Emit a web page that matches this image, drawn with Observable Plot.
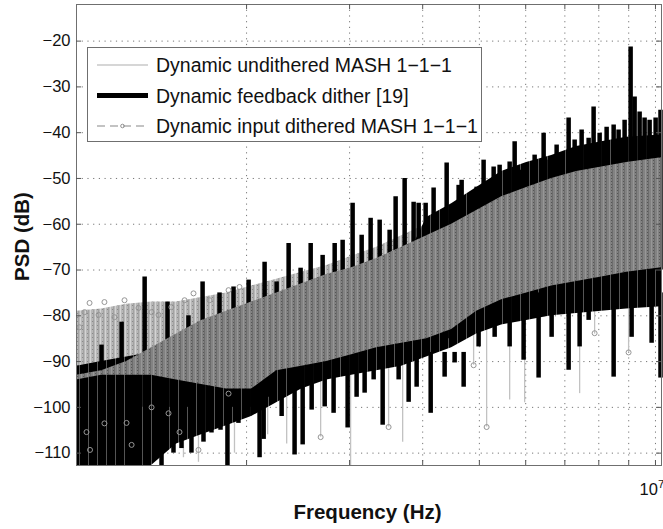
<!DOCTYPE html>
<html><head><meta charset="utf-8">
<script src="https://cdn.jsdelivr.net/npm/d3@7"></script>
<script src="https://cdn.jsdelivr.net/npm/@observablehq/plot@0.6"></script>
<style>
body{margin:0;background:#fff}
#chart{position:relative;width:663px;height:529px}
</style>
</head><body><div id="chart"></div>
<script>
// ---------- data (frequencies in MHz, PSD in dB) ----------
const bandF     = [1.024,1.130,1.247,1.376,1.518,1.675,1.848,2.040,2.251,2.484,2.741,3.024,3.337,3.682,4.063,4.483,4.946,5.458,6.022,6.645,7.332,8.090,8.926,10.24];
const lightTop  = [-79,-78.5,-77.5,-77,-77,-76,-75,-73.5,-72,-70.5,-69,-67,-65,-62.5,-60,-57.5,-55,-52,-50,-48,-46.5,-45.5,-44.5,-43.5];
const denseTop  = [-93,-92,-90,-87,-84,-81,-79,-77,-75,-73,-71,-69.5,-67.5,-65,-62.5,-60,-57,-54,-52,-50,-48.5,-47.5,-46.5,-45.5];
const bandLow   = [-94,-93,-93,-93,-94,-95,-96,-96,-92,-91,-90,-88.5,-87,-86,-85,-83,-79,-76.5,-75,-73.5,-72.5,-71.5,-70.5,-69.5];
const blackHigh = [-91,-90,-89,-88,-88,-87,-86,-85,-82,-80,-78,-76,-74,-70,-58.5,-55.5,-52,-48.5,-46.5,-45,-43,-42,-41,-40.5];
const blackLow  = [-112.7,-112.7,-112.7,-112.7,-108,-106,-104,-102,-99,-96,-94,-93,-92,-91,-89,-87,-84,-82,-81,-80,-79.5,-79,-78.5,-78];

// feedback dither: upward spikes
const fbUpF   = [1.130,1.223,1.339,1.465,1.591,1.682,1.798,1.900,2.016,2.147,2.251,2.360,2.474,2.574,2.698,2.829,2.919,3.036,3.146,3.259,3.377,3.512,3.596,3.726,3.860,3.937,4.047,4.176,4.396,4.608,4.663,4.946,5.084,5.289,5.415,5.633,5.745,5.858,6.215,6.439,6.593,6.777,7.105,7.275,7.478,7.687,7.839,8.027,8.251,8.482,8.649,8.856,9.068,9.212,9.395,9.581,9.772,10.006,10.20];
const fbUpTop = [-86.4,-81.4,-71.5,-77,-80,-72.6,-75,-73.7,-72.2,-68.3,-72.6,-64.2,-69.6,-64.2,-66.8,-64.2,-63.5,-55.4,-62.4,-58.7,-59.1,-61.3,-54,-50,-55.2,-55.4,-55.4,-52.1,-46.6,-51.5,-50.4,-51.9,-46,-47.5,-47.1,-46.4,-42,-48.2,-44.9,-40.1,-46,-42.7,-36.8,-41.6,-39.4,-41.2,-34.4,-40.1,-38.8,-38.3,-39.4,-37.3,-21.3,-32.2,-35.5,-36.8,-37.3,-36.8,-35.1];
const fbUpBase= [-100,-100,-100,-100,-100,-100,-100,-100,-100,-85,-85,-85,-85,-85,-85,-85,-85,-85,-85,-85,-85,-85,-85,-85,-85,-85,-85,-85,-85,-70,-70,-70,-70,-70,-70,-70,-70,-70,-70,-70,-70,-70,-70,-70,-70,-70,-70,-70,-70,-70,-70,-70,-70,-70,-70,-70,-70,-70,-70];
// feedback dither: downward spikes
const fbDownF      = [1.287,1.431,1.500,1.548,1.610,1.688,1.742,1.805,1.855,1.937,2.016,2.105,2.139,2.181,2.296,2.416,2.494,2.584,2.720,2.817,2.977,3.084,3.183,3.298,3.417,3.639,3.785,3.906,4.128,4.361,4.536,4.700,4.985,5.310,5.633,5.951,6.313,6.645,7.105,7.419,7.687,8.482,9.104,9.849,10.20];
const fbDownBottom = [-112.7,-112.7,-110,-109,-110,-107.6,-105.6,-105,-112.7,-103.5,-102,-111,-107,-97.8,-102,-110.4,-108.2,-100.6,-99.9,-101.3,-104.5,-97.8,-96.9,-94,-103.9,-94,-98.9,-95.6,-101.3,-93.4,-90.3,-95.6,-86.8,-84.7,-86.8,-89.7,-93.6,-84.7,-91.9,-86.8,-81,-93.4,-84.7,-86,-93.6];
const fbDownBase   = [-92,-92,-92,-92,-92,-92,-92,-92,-92,-92,-92,-92,-92,-88,-88,-88,-88,-88,-88,-88,-88,-88,-88,-88,-88,-88,-88,-88,-88,-88,-88,-88,-75,-75,-75,-75,-75,-75,-75,-75,-75,-75,-75,-75,-75];

// undithered: thin light-grey downward spikes
const undF    = [1.560,1.655,1.907,2.173,2.342,2.677,3.012,3.498,3.697,4.888,5.145,5.633,5.975,7.419,7.870,8.996];
const undLow  = [-111,-112,-110,-106,-108,-106.5,-112.7,-104.3,-107.6,-90.8,-104.3,-98.4,-99,-97,-84,-88];
const undHigh = [-90,-90,-90,-88,-88,-85,-85,-85,-85,-75,-75,-75,-75,-72,-72,-72];

// input dithered: visible markers
const ditF = [1.036,1.057,1.078,1.117,1.143,1.189,1.237,1.307,1.376,1.414,1.488,1.567,1.623,1.729,1.863,1.945,
              1.065,1.080,1.143,1.247,1.272,1.376,1.471,1.536,1.655,1.863,
              2.677,3.498,5.145,7.870,8.996,4.888];
const ditV = [-82.5,-79.2,-77.2,-79.8,-77,-80.3,-76.6,-78.3,-79.2,-79.8,-78.1,-76.6,-75.1,-76.6,-74.4,-73.7,
              -105.4,-109.3,-103.5,-103.4,-108.2,-100,-101.3,-105.4,-109.3,-97,
              -106.5,-104.3,-104.3,-83.8,-88,-90.8];

const yTicks = [-110,-100,-90,-80,-70,-60,-50,-40,-30,-20];
const xGrid  = [2e6,3e6,4e6,5e6,6e6,7e6,8e6,9e6,1e7];
const seriesNames = ["Dynamic undithered MASH 1\u22121\u22121","Dynamic feedback dither [19]","Dynamic input dithered MASH 1\u22121\u22121"];

// ---------- build ----------
const W=663,H=529,mL=76,mR=2,mT=4,mB=64;
const pw=W-mL-mR, ph=H-mT-mB;
const M=1e6;
const band = bandF.map((f,i)=>({f:f*M, lt:lightTop[i], dt:denseTop[i], lo:bandLow[i], bh:blackHigh[i], bl:blackLow[i]}));
const up = fbUpF.map((f,i)=>({f:f*M, hi:fbUpTop[i], lo:fbUpBase[i]}));
const down = fbDownF.map((f,i)=>({f:f*M, hi:fbDownBase[i], lo:fbDownBottom[i]}));
const und = undF.map((f,i)=>({f:f*M, hi:undHigh[i], lo:undLow[i]}));
const dit = ditF.map((f,i)=>({f:f*M, v:ditV[i]}));
const font = "'Liberation Sans', Arial, Helvetica, sans-serif";

const svg = Plot.plot({
  width:W, height:H, marginLeft:mL, marginRight:mR, marginTop:mT, marginBottom:mB,
  x:{type:"log", domain:[1.024e6,1.024e7], axis:null},
  y:{domain:[-112.7,-12], axis:null},
  style:{fontFamily:font, background:"#fff", overflow:"visible"},
  marks:[
    Plot.gridX(xGrid, {stroke:"#777", strokeOpacity:1, strokeDasharray:"1.2,4.5"}),
    Plot.gridY(yTicks, {stroke:"#777", strokeOpacity:1, strokeDasharray:"1.2,4.5"}),
    Plot.ruleX(und, {x:"f", y1:"lo", y2:"hi", stroke:"#c2c2c2", strokeWidth:1.3}),
    Plot.areaY(band, {x:"f", y1:"lo", y2:"lt", fill:"url(#lightPat)"}),
    Plot.areaY(band, {x:"f", y1:"bl", y2:"bh", fill:"url(#blackPat)"}),
    Plot.ruleX(up, {x:"f", y1:"lo", y2:"hi", stroke:"#000", strokeWidth:4.5}),
    Plot.ruleX(down, {x:"f", y1:"lo", y2:"hi", stroke:"#000", strokeWidth:4.5}),
    Plot.areaY(band, {x:"f", y1:"lo", y2:"dt", fill:"url(#densePat)"}),
    Plot.dot(dit, {x:"f", y:"v", r:2.5, stroke:"#969696", strokeWidth:1, fill:"none"}),
    Plot.frame({stroke:"#6f6f6f"}),
    Plot.tickX(xGrid, {x:d=>d, insetTop:ph-5, stroke:"#555"}),
    Plot.tickX(xGrid, {x:d=>d, insetBottom:ph-5, stroke:"#555"}),
    Plot.tickY(yTicks, {y:d=>d, insetRight:pw-5, stroke:"#555"}),
    Plot.tickY(yTicks, {y:d=>d, insetLeft:pw-5, stroke:"#555"}),
    Plot.text(yTicks, {y:d=>d, frameAnchor:"left", textAnchor:"end", dx:-6, text:d=>"\u2212"+Math.abs(d), fontSize:16.5, fill:"#111"})
  ]
});
document.getElementById("chart").appendChild(svg);

const s = d3.select(svg);
// texture patterns for the dense PSD traces
const defs = s.insert("defs", ":first-child");
const dp = defs.append("pattern").attr("id","densePat").attr("patternUnits","userSpaceOnUse").attr("width",6).attr("height",3);
dp.append("rect").attr("width",6).attr("height",3).attr("fill","#828282");
dp.append("rect").attr("x",0).attr("width",1).attr("height",3).attr("fill","#6c6c6c");
dp.append("rect").attr("x",3).attr("width",1).attr("height",3).attr("fill","#979797");
dp.append("rect").attr("x",5).attr("y",1).attr("width",1).attr("height",1).attr("fill","#555");
const lp = defs.append("pattern").attr("id","lightPat").attr("patternUnits","userSpaceOnUse").attr("width",5).attr("height",4);
lp.append("rect").attr("width",5).attr("height",4).attr("fill","#b8b8b8");
lp.append("rect").attr("x",0).attr("width",1).attr("height",4).attr("fill","#d4d4d4");
lp.append("rect").attr("x",3).attr("width",1).attr("height",4).attr("fill","#a2a2a2");
lp.append("rect").attr("x",2).attr("y",1).attr("width",1).attr("height",1).attr("fill","#8a8a8a");
const bp = defs.append("pattern").attr("id","blackPat").attr("patternUnits","userSpaceOnUse").attr("width",9).attr("height",4);
bp.append("rect").attr("width",9).attr("height",4).attr("fill","#000");
bp.append("rect").attr("x",7).attr("width",1).attr("height",4).attr("fill","#555");

const sx = svg.scale("x");
// x tick label 10^7
const t = s.append("text").attr("x", sx.apply(1e7)-3).attr("y", mT+ph+30)
  .attr("text-anchor","middle").attr("font-family",font).attr("font-size",16.5).attr("fill","#111");
t.append("tspan").text("10");
t.append("tspan").attr("dy",-7).attr("font-size",11.5).text("7");
// axis labels
s.append("text").attr("x", mL+pw/2-1).attr("y", 519).attr("text-anchor","middle")
  .attr("font-family",font).attr("font-weight","bold").attr("font-size",20.5).attr("fill","#111")
  .text("Frequency (Hz)");
s.append("text").attr("transform",`translate(29,${mT+ph/2+2}) rotate(-90)`).attr("text-anchor","middle")
  .attr("font-family",font).attr("font-weight","bold").attr("font-size",20.5).attr("fill","#111")
  .text("PSD (dB)");
// legend
const lg = s.append("g");
lg.append("rect").attr("x",87.5).attr("y",47.5).attr("width",394).attr("height",94)
  .attr("fill","#fff").attr("stroke","#6f6f6f");
const rows=[65,95.5,126];
lg.append("line").attr("x1",97).attr("x2",148).attr("y1",rows[0]).attr("y2",rows[0]).attr("stroke","#c8c8c8").attr("stroke-width",1.5);
lg.append("line").attr("x1",97).attr("x2",148).attr("y1",rows[1]).attr("y2",rows[1]).attr("stroke","#000").attr("stroke-width",5);
lg.append("line").attr("x1",97).attr("x2",148).attr("y1",rows[2]).attr("y2",rows[2]).attr("stroke","#b0b0b0").attr("stroke-width",1.3).attr("stroke-dasharray","8,5");
lg.append("circle").attr("cx",122.5).attr("cy",rows[2]).attr("r",1.8).attr("fill","none").attr("stroke","#909090");
seriesNames.forEach((n,i)=>{
  lg.append("text").attr("x",156).attr("y",rows[i]+7).attr("text-anchor","start")
    .attr("font-family",font).attr("font-size",19.5).attr("fill","#111").text(n);
});
</script>
</body></html>
